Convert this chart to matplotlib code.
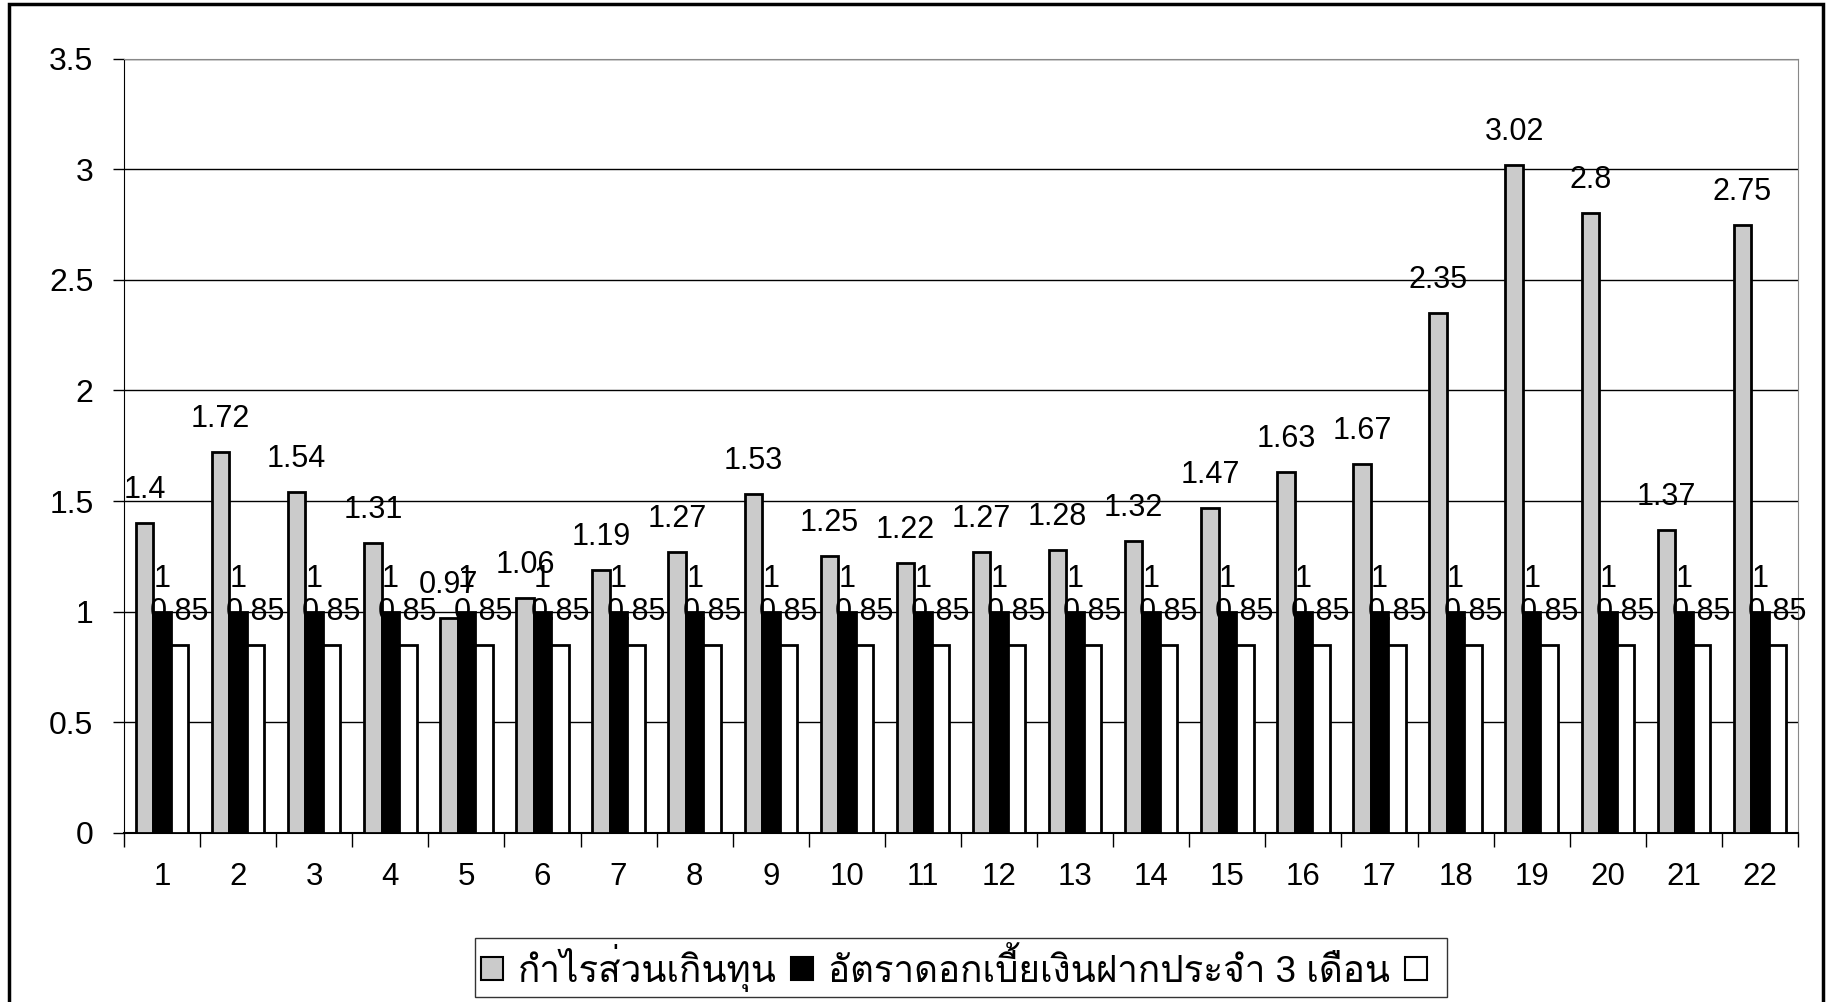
import matplotlib
matplotlib.use('Agg')
import matplotlib.pyplot as plt
from matplotlib import font_manager
from matplotlib.ft2font import FT2Font
from matplotlib.patches import Rectangle, Patch
import numpy as np

# data
categories = [str(i) for i in range(1, 23)]
surplus = [1.4, 1.72, 1.54, 1.31, 0.97, 1.06, 1.19, 1.27, 1.53, 1.25, 1.22,
           1.27, 1.28, 1.32, 1.47, 1.63, 1.67, 2.35, 3.02, 2.8, 1.37, 2.75]
deposit_rate = [1] * 22
third_series = [0.85] * 22
legend_labels = ['กำไรส่วนเกินทุน', 'อัตราดอกเบี้ยเงินฝากประจำ 3 เดือน', '']


def find_thai_font():
    for f in font_manager.fontManager.ttflist:
        try:
            if 0x0E01 in FT2Font(f.fname).get_charmap():
                return f.name
        except Exception:
            pass
    return None


thai = find_thai_font()
families = ['Liberation Sans']
if thai:
    families.append(thai)
families.append('DejaVu Sans')
plt.rcParams['font.family'] = families

W, H = 1837, 1002
fig = plt.figure(figsize=(W / 100, H / 100), dpi=100)
left, right, top, bottom = 124, 1798, 58.6, 833
ax = fig.add_axes([left / W, 1 - bottom / H, (right - left) / W, (bottom - top) / H])

x = np.arange(1, 23)
bw = 0.23
b1 = ax.bar(x - bw, surplus, bw, color='#cbcbcb', edgecolor='black', linewidth=2, zorder=3)
b2 = ax.bar(x, deposit_rate, bw, color='black', edgecolor='black', linewidth=2, zorder=3)
b3 = ax.bar(x + bw, third_series, bw, color='white', edgecolor='black', linewidth=2, zorder=3)

for bars, vals in ((b1, surplus), (b2, deposit_rate), (b3, third_series)):
    for rect, v in zip(bars, vals):
        ax.annotate(f'{v:g}', (rect.get_x() + rect.get_width() / 2, v),
                    xytext=(0, 18), textcoords='offset points',
                    ha='center', va='baseline', fontsize=22, zorder=5)

ax.set_xlim(0.5, 22.5)
ax.set_ylim(0, 3.5)
ax.set_yticks(np.arange(0, 3.51, 0.5))
ax.set_yticklabels(['0', '0.5', '1', '1.5', '2', '2.5', '3', '3.5'])
ax.yaxis.grid(True, color='black', linewidth=1, zorder=0)
ax.set_axisbelow(True)

ax.set_xticks(np.arange(0.5, 23, 1))
ax.set_xticklabels([])
ax.set_xticks(x, minor=True)
ax.set_xticklabels(categories, minor=True)
ax.tick_params(axis='x', which='major', length=10, width=1, direction='out')
ax.tick_params(axis='x', which='minor', length=0, pad=21, labelsize=22.5)
ax.tick_params(axis='y', length=8, width=1, direction='out', pad=14, labelsize=23)

for side in ('top', 'right'):
    ax.spines[side].set_color('#888888')
    ax.spines[side].set_linestyle((0, (1, 1)))
ax.spines['left'].set_color('black')
ax.spines['bottom'].set_color('black')
ax.spines['bottom'].set_linewidth(1.5)

handles = [Patch(facecolor='#cbcbcb', edgecolor='black', linewidth=1.5),
           Patch(facecolor='black', edgecolor='black', linewidth=1.5),
           Patch(facecolor='white', edgecolor='black', linewidth=1.5)]
leg = fig.legend(handles, legend_labels, loc='center', ncol=3,
                 bbox_to_anchor=(961 / W, 1 - 967.5 / H), fontsize=26.5,
                 frameon=True, fancybox=False, edgecolor='black',
                 handlelength=0.6, handleheight=0.6, handletextpad=0.4,
                 columnspacing=0.4, borderpad=0.15, borderaxespad=0)
leg.get_frame().set_linewidth(1)

# outer border of the chart
fig.patches.append(Rectangle((9 / W, -0.05), (1823 - 9) / W, 1.05 - 4 / H,
                             transform=fig.transFigure, fill=False,
                             edgecolor='black', linewidth=2.5))

fig.savefig('out.png', dpi=100)
